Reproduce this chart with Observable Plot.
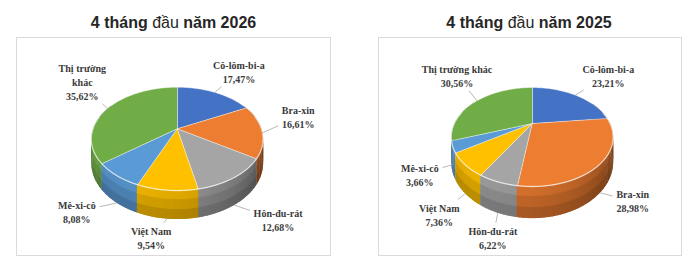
<!DOCTYPE html>
<html><head><meta charset="utf-8">
<script src="https://cdn.jsdelivr.net/npm/d3@7"></script>
<script src="https://cdn.jsdelivr.net/npm/@observablehq/plot@0.6"></script>
<style>
body{margin:0;background:#fff;width:700px;height:266px;position:relative;overflow:hidden;font-family:"Liberation Sans",Arial,sans-serif}
.title{position:absolute;top:13px;width:300px;line-height:20px;font-size:16px;font-weight:bold;color:#262626;text-align:center;white-space:nowrap}
.title .n{font-weight:normal}
.box{position:absolute;border:1px solid #dadada;box-sizing:border-box;background:#fff}
.box svg{display:block}
.box svg text{font-family:"Liberation Serif","Times New Roman",serif}
</style></head><body>
<script>
// ---- data ----
const markets = ["Cô-lôm-bi-a","Bra-xin","Hôn-đu-rát","Việt Nam","Mê-xi-cô","Thị trường khác"];
const share2026 = [17.47,16.61,12.68,9.54,8.08,35.62];
const share2025 = [23.21,28.98,6.22,7.36,3.66,30.56];
const years = ["2026","2025"];
const colors = ["#4472C4","#ED7D31","#A5A5A5","#FFC000","#5B9BD5","#70AD47"];

// ---- layout ----
const panels = [
  {shares:share2026, year:years[0], titleCx:173.5, box:{left:16,top:37,w:315,h:219},
   cx:159.7, cy:90.3, rx:84.3, ry:49.7, p:0.195, depth:23, wrap:true,
   nudge:[[24,-21],[36,-16],[44,15],[-16,19],[-40,9],[-25,-27]]},
  {shares:share2025, year:years[1], titleCx:529, box:{left:378,top:37,w:304,h:219},
   cx:152.7, cy:85, rx:77.9, ry:45.8, p:0.273, depth:23, wrap:false,
   nudge:[[33,-20],[33,8],[-5,25],[-26,21],[-33,10],[-20,-25]]}
];
const bands = [[0, 0.3, 1.0], [0.3, 0.65, 0.9], [0.65, 1, 0.8]];

const fmt = v => d3.format(".2f")(v).replace(".", ",");
function shade(c, f){ const k = d3.rgb(c); return d3.rgb(k.r*f, k.g*f, k.b*f).formatHex(); }

function render(P){
  const t = document.createElement("div");
  t.className = "title";
  t.style.left = (P.titleCx - 150) + "px";
  t.innerHTML = `4 tháng <span class="n">đầu</span> năm ${P.year}`;
  document.body.appendChild(t);

  const box = document.createElement("div");
  box.className = "box";
  Object.assign(box.style, {left:P.box.left+"px", top:P.box.top+"px", width:P.box.w+"px", height:P.box.h+"px"});
  document.body.appendChild(box);

  const W = P.box.w - 2, H = P.box.h - 2, rx = P.rx, k = P.ry / P.rx, dep = P.depth / P.rx, p = P.p;
  const items = markets.map((m, i) => ({name:m, value:P.shares[i], color:colors[i]}));
  const pie = d3.pie().sort(null).value(d => d.value)(items);
  const proj = (a, r = 1) => { const u = r*Math.sin(a), v = r*Math.cos(a), s = 1/(1 + p*v); return {x:u*s, y:-k*v*s, s, v}; };

  // side walls as thin overlapping strips (with vertical bands), painted back to front
  const walls = [];
  pie.forEach(sl => {
    const span = sl.endAngle - sl.startAngle;
    const n = Math.max(1, Math.ceil(span / (Math.PI/120)));
    const step = span / n;
    for (let j = 0; j < n; j++){
      const a = sl.startAngle + step*j, b = Math.min(sl.endAngle + step*0.3, a + step*1.6), m = a + step/2;
      if (Math.cos(m) > 0.5) continue;
      const A = proj(a), B = proj(b);
      const bright = 0.6 + 0.32*Math.cos(m - 7*Math.PI/6);
      bands.forEach(([f0, f1, mul], bi) => {
        const g0 = f0, g1 = Math.min(1, f1 + 0.04);
        walls.push({id:`w${sl.index}-${j}-${bi}`, order:Math.cos(m), col:shade(sl.data.color, bright*mul),
          pts:[[A.x,A.y+dep*A.s*g0],[B.x,B.y+dep*B.s*g0],[B.x,B.y+dep*B.s*g1],[A.x,A.y+dep*A.s*g1]]});
      });
    }
  });
  walls.sort((a, b) => b.order - a.order);
  const wallRows = walls.flatMap(w => w.pts.map(([x, y]) => ({id:w.id, x, y, col:w.col})));

  // top faces
  const topRows = pie.flatMap(sl => {
    const span = sl.endAngle - sl.startAngle;
    const n = Math.max(2, Math.ceil(span / (Math.PI/180)));
    const pts = [{x:0, y:0}];
    for (let j = 0; j <= n; j++){ const q = proj(sl.startAngle + span*j/n); pts.push({x:q.x, y:q.y}); }
    return pts.map(q => ({...q, id:"t"+sl.index, col:sl.data.color}));
  });

  // rim highlight on front edge
  const rimRows = d3.range(0, 181).map(j => { const q = proj(Math.PI/2 - 0.25 + (Math.PI + 0.5)*j/180); return {x:q.x, y:q.y}; });

  // labels
  const labels = pie.map((sl, i) => {
    const m = (sl.startAngle + sl.endAngle)/2, q = proj(m);
    const frac = Math.min(1, Math.max(0, -q.v*1.5));
    const ax = q.x, ay = q.y + dep*q.s*frac;
    const [nx, ny] = P.nudge[i];
    const lx = ax + nx/rx, ly = ay + ny/rx;
    let name = sl.data.name;
    if (P.wrap && name.length > 10) name = name.replace(/ (\S+)$/, "\n$1");
    const text = name + "\n" + fmt(sl.data.value) + "%";
    const lines = text.split("\n");
    const hw = (d3.max(lines, l => l.length)*2.6 + 2)/rx, hh = (lines.length*7 + 1)/rx;
    const dx = ax - lx, dy = ay - ly;
    const tt = Math.min(Math.abs(dx) > 1e-9 ? hw/Math.abs(dx) : Infinity, Math.abs(dy) > 1e-9 ? hh/Math.abs(dy) : Infinity);
    return {text, lx, ly, ax, ay, ex:lx + tt*dx, ey:ly + tt*dy, show:tt < 1};
  });

  const svg = Plot.plot({
    width:W, height:H, margin:0,
    x:{domain:[-P.cx/rx, (W - P.cx)/rx], range:[0, W], axis:null},
    y:{domain:[-P.cy/rx, (H - P.cy)/rx], range:[0, H], axis:null},
    color:{type:"identity"},
    style:{background:"transparent", overflow:"visible"},
    marks:[
      Plot.line(wallRows, {x:"x", y:"y", z:"id", fill:"col", curve:"linear-closed"}),
      Plot.line(topRows, {x:"x", y:"y", z:"id", fill:"col", stroke:"#ffffff", strokeOpacity:0.55, strokeWidth:0.8, curve:"linear-closed"}),
      Plot.line(rimRows, {x:"x", y:"y", stroke:"#ffffff", strokeOpacity:0.5, strokeWidth:1.3}),
      Plot.link(labels.filter(d => d.show), {x1:"ax", y1:"ay", x2:"ex", y2:"ey", stroke:"#a6a6a6", strokeWidth:0.8}),
      Plot.text(labels, {x:"lx", y:"ly", text:"text", fontFamily:"Liberation Serif",
        fontWeight:"bold", fontSize:10, fill:"#3a3a3a", lineHeight:1.4})
    ]
  });
  box.appendChild(svg);
}
panels.forEach(render);
</script>
</body></html>
